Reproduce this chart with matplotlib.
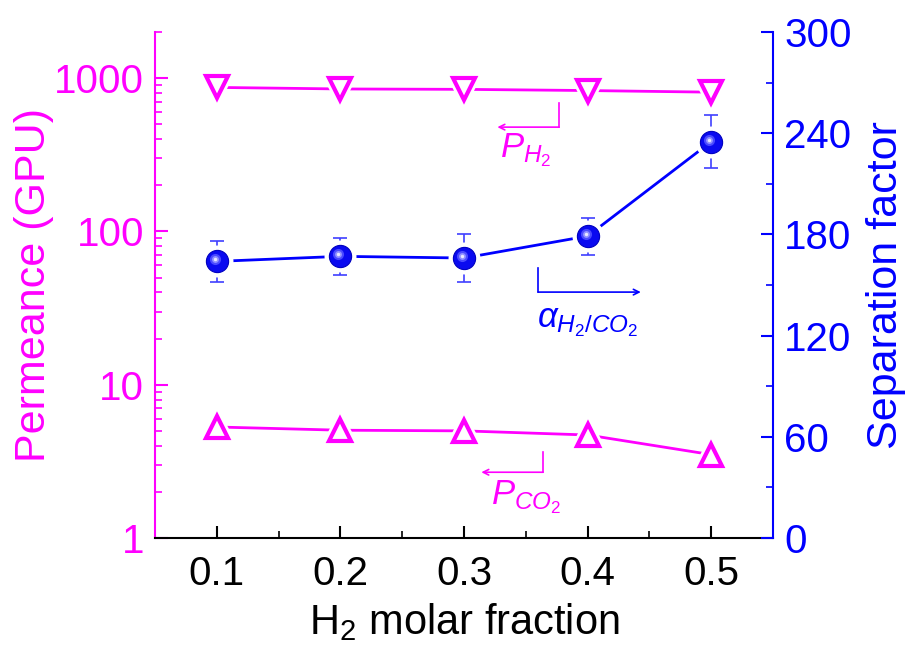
import numpy as np
import matplotlib.pyplot as plt
from matplotlib.ticker import FixedLocator, MultipleLocator, LogLocator, NullFormatter
from matplotlib.transforms import offset_copy

plt.rcParams['font.family'] = ['Liberation Sans', 'DejaVu Sans']
plt.rcParams['mathtext.fontset'] = 'custom'
plt.rcParams['mathtext.rm'] = 'Liberation Sans'
plt.rcParams['mathtext.it'] = 'Liberation Sans:italic'

########
# Data #
########
h2_fraction = [0.1, 0.2, 0.3, 0.4, 0.5]
perm_h2 = [870, 850, 845, 830, 810]
perm_h2_err = [150, 40, 40, 40, 150]
perm_co2 = [5.3, 5.05, 5.0, 4.7, 3.5]
perm_co2_err = [0.45, 0.35, 0.35, 0.45, 0.35]
alpha = [164, 167, 166, 179, 235]
alpha_err = [12, 11, 14.5, 11, 15.5]

MAG = '#ff00ff'
BLUE = '#0000ff'

fig = plt.figure(figsize=(9.07, 6.49), dpi=100)
ax = fig.add_axes([0.1709, 0.171, 0.6814, 0.7797])
ax2 = ax.twinx()

# permeance (left, log)
for vals, err, mk in [(perm_h2, perm_h2_err, 'v'), (perm_co2, perm_co2_err, '^')]:
    ax.errorbar(h2_fraction, vals, yerr=err, fmt='none', ecolor=MAG, elinewidth=1,
                capsize=0, zorder=2)
    ax.plot(h2_fraction, vals, '-', color=MAG, lw=2, zorder=1)
    ax.plot(h2_fraction, vals, mk, ms=15.5, mfc='white', mec='white', mew=7, zorder=3)
    ax.plot(h2_fraction, vals, mk, ms=15.5, mfc='white', mec=MAG, mew=3, zorder=4)

ax.set_yscale('log')
ax.set_ylim(1, 2000)
ax.set_xlim(0.05, 0.55)
ax.yaxis.set_major_locator(FixedLocator([1, 10, 100, 1000]))
ax.set_yticklabels(['1', '10', '100', '1000'])
ax.yaxis.set_minor_locator(LogLocator(base=10, subs=np.arange(2, 10)))
ax.yaxis.set_minor_formatter(NullFormatter())
ax.xaxis.set_minor_locator(MultipleLocator(0.05))
ax.set_xticks(h2_fraction)
ax.set_xticklabels(['0.1', '0.2', '0.3', '0.4', '0.5'])

# separation factor (right)
ax2.errorbar(h2_fraction, alpha, yerr=alpha_err, fmt='none', ecolor='#4040ff', elinewidth=1.2,
             capsize=5, capthick=1.2, zorder=2)
ax2.plot(h2_fraction, alpha, '-', color=BLUE, lw=2, zorder=1)
ax2.plot(h2_fraction, alpha, 'o', ms=16, mfc='white', mec='white', mew=7, zorder=3)
ax2.plot(h2_fraction, alpha, 'o', ms=16, mfc='#0a0af0', mec='#0000c0', mew=0.8, zorder=4)
# shading of the spheres
shade = offset_copy(ax2.transData, fig=fig, x=-1.5, y=1.5, units='points')
ax2.plot(h2_fraction, alpha, 'o', ms=8, mfc='#4a4aff', mec='none', zorder=5, transform=shade)
ax2.plot(h2_fraction, alpha, 'o', ms=5, mfc='#9090ff', mec='none', zorder=6, transform=shade)
ax2.plot(h2_fraction, alpha, 'o', ms=2.5, mfc='#e8e8ff', mec='none', zorder=7, transform=shade)
ax2.set_ylim(0, 300)
ax2.yaxis.set_major_locator(MultipleLocator(60))
ax2.yaxis.set_minor_locator(MultipleLocator(30))

# spines & ticks
ax.spines['top'].set_visible(False)
ax2.spines['top'].set_visible(False)
ax.spines['left'].set_color(MAG)
ax2.spines['left'].set_visible(False)
ax.spines['right'].set_visible(False)
ax2.spines['right'].set_color(BLUE)
ax2.spines['bottom'].set_visible(False)
for sp in ['left', 'bottom']:
    ax.spines[sp].set_linewidth(1.5)
ax2.spines['right'].set_linewidth(1.5)

ax.tick_params(axis='y', which='both', direction='in', colors=MAG, labelsize=29, pad=8)
ax.tick_params(axis='y', which='major', length=9, width=1.5)
ax.tick_params(axis='y', which='minor', length=5, width=1.2)
ax.tick_params(axis='x', which='both', direction='in', colors='black', labelsize=29, pad=12)
ax.tick_params(axis='x', which='major', length=9, width=1.5)
ax.tick_params(axis='x', which='minor', length=5, width=1.2)
ax2.tick_params(axis='y', which='both', direction='in', colors=BLUE, labelsize=29, pad=8)
ax2.tick_params(axis='y', which='major', length=9, width=1.5)
ax2.tick_params(axis='y', which='minor', length=5, width=1.2)

ax.set_xlabel('H$_2$ molar fraction', fontsize=30, labelpad=6)
ax.set_ylabel('Permeance (GPU)', fontsize=31, color=MAG, labelpad=0)
ax2.set_ylabel('Separation factor', fontsize=31, color=BLUE, labelpad=10)

# arrows pointing at the axes
ax2.plot([0.377, 0.377], [258, 243.6], color=MAG, lw=1.2)
ax2.annotate('', xy=(0.327, 243.6), xytext=(0.377, 243.6),
             arrowprops=dict(arrowstyle='->', color=MAG, lw=1.2, shrinkA=0, shrinkB=0))
ax2.text(0.35, 230, '$P_{H_2}$', color=MAG, fontsize=25, ha='center', va='center')

ax2.plot([0.36, 0.36], [160, 145.8], color=BLUE, lw=1.2)
ax2.annotate('', xy=(0.443, 145.8), xytext=(0.36, 145.8),
             arrowprops=dict(arrowstyle='->', color=BLUE, lw=1.2, shrinkA=0, shrinkB=0))
ax2.text(0.40, 128, r'$\alpha_{H_2/CO_2}$', color=BLUE, fontsize=25, ha='center', va='center')

ax2.plot([0.364, 0.364], [51, 39], color=MAG, lw=1.2)
ax2.annotate('', xy=(0.314, 39), xytext=(0.364, 39),
             arrowprops=dict(arrowstyle='->', color=MAG, lw=1.2, shrinkA=0, shrinkB=0))
ax2.text(0.35, 24, '$P_{CO_2}$', color=MAG, fontsize=25, ha='center', va='center')

fig.savefig('out.png', dpi=100)
